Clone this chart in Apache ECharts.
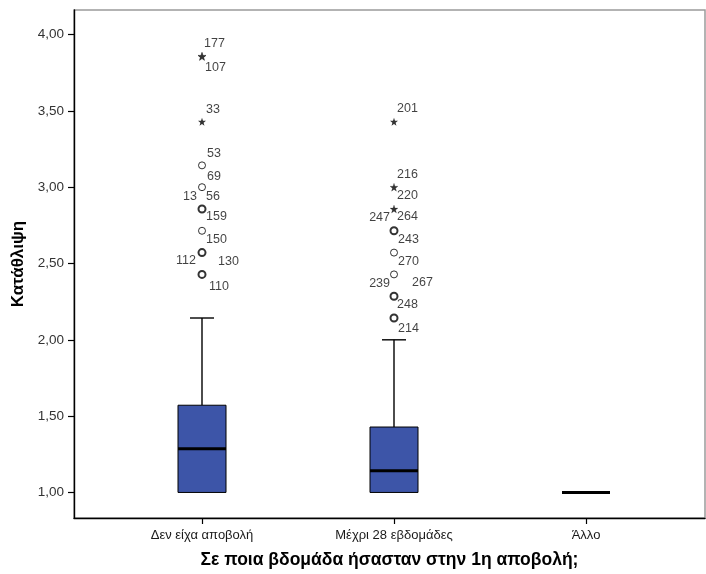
<!DOCTYPE html>
<html>
<head>
<meta charset="utf-8">
<script src="https://cdn.jsdelivr.net/npm/echarts@6/dist/echarts.min.js"></script>
<style>
  html, body { margin: 0; padding: 0; background: #ffffff; }
  #chart { width: 706px; height: 574px; }
</style>
</head>
<body>
<div id="chart"></div>
<script>
// Groups on the horizontal axis
const groups = ['Δεν είχα αποβολή', 'Μέχρι 28 εβδομάδες', 'Άλλο'];

// Five-number summaries per group
const whiskerLow  = [1.0000, 1.0000, 1.0000];
const quartile1   = [1.0000, 1.0000, 1.0000];
const medians     = [1.2857, 1.1429, 1.0000];
const quartile3   = [1.5714, 1.4286, 1.0000];
const whiskerHigh = [2.1429, 2.0000, 1.0000];

// Outlying cases: group index, value, kind (mild = circle, extreme = star), case numbers
const outlierGroup = [0, 0, 0, 0, 0, 0, 0, 0, 1, 1, 1, 1, 1, 1, 1, 1];
const outlierValue = [3.8571, 3.4286, 3.1429, 3.0000, 2.8571, 2.7143, 2.5714, 2.4286,
                      3.4286, 3.0000, 2.8571, 2.7143, 2.5714, 2.4286, 2.2857, 2.1429];
const outlierKind  = ['extreme', 'extreme', 'mild', 'mild', 'mild', 'mild', 'mild', 'mild',
                      'extreme', 'extreme', 'extreme', 'mild', 'mild', 'mild', 'mild', 'mild'];
const outlierCases = [['177', '107'], ['33'], ['53', '69'], ['13', '56'], ['159'], ['150'], ['112', '130'], ['110'],
                      ['201'], ['216', '220'], ['247', '264'], ['243'], ['270'], ['239', '267'], ['248'], ['214']];

// Y axis tick values
const yTicks = [1.0, 1.5, 2.0, 2.5, 3.0, 3.5, 4.0];

// Axis titles
const xTitle = 'Σε ποια βδομάδα ήσασταν στην 1η αποβολή;';
const yTitle = 'Κατάθλιψη';

// ---- presentation ----
const Y_MIN = 0.8326, Y_MAX = 4.1608;
const FONT = '"Liberation Sans", Arial, sans-serif';
const BOX_FILL = '#3d55a8';

// marker stroke weight (heavier where several cases overlap)
const outlierStroke = [1.6, 1.0, 1.0, 1.0, 2.0, 1.0, 2.0, 2.0,
                       1.0, 1.2, 1.2, 2.0, 1.0, 1.0, 2.0, 2.0];
// case-number label placement relative to its marker: [dx, dy, align]
const caseLabelSpot = [
  [[2, -13, 'left'], [3, 11, 'left']],
  [[4, -12, 'left']],
  [[5, -12, 'left'], [5, 11, 'left']],
  [[-5, 9, 'right'], [4, 9, 'left']],
  [[4, 8, 'left']],
  [[4, 9, 'left']],
  [[-6, 8, 'right'], [16, 9, 'left']],
  [[7, 12, 'left']],
  [[3, -13, 'left']],
  [[3, -13, 'left'], [3, 8, 'left']],
  [[-4, 9, 'right'], [3, 8, 'left']],
  [[4, 9, 'left']],
  [[4, 9, 'left']],
  [[-4, 9, 'right'], [18, 8, 'left']],
  [[3, 8, 'left']],
  [[4, 11, 'left']]
];

const STAR = 'path://M50,0 L61.8,35.1 L97.6,34.5 L69.1,56.9 L79.4,90.5 L50,70.5 L20.6,90.5 L30.9,56.9 L2.4,34.5 L38.2,35.1 Z';

const boxData = groups.map((g, i) => [i, whiskerLow[i], quartile1[i], medians[i], quartile3[i], whiskerHigh[i]]);

const outlierData = outlierValue.map((v, i) => {
  const star = outlierKind[i] === 'extreme';
  return {
    value: [outlierGroup[i], v],
    symbol: star ? STAR : 'circle',
    symbolSize: star ? 8 : 7,
    itemStyle: star
      ? { color: '#000', borderColor: '#000', borderWidth: outlierStroke[i] - 1 }
      : { color: '#fff', borderColor: '#000', borderWidth: outlierStroke[i] }
  };
});

// label anchor sits on a 2px invisible symbol; position is measured from its top-left corner
const caseLabelData = [];
outlierCases.forEach((cases, i) => {
  cases.forEach((c, k) => {
    const spot = caseLabelSpot[i][k];
    caseLabelData.push({
      value: [outlierGroup[i], outlierValue[i]],
      name: c,
      label: { position: [spot[0] + 1, spot[1] + 1], align: spot[2], verticalAlign: 'middle' }
    });
  });
});

function renderBox(params, api) {
  const cat = api.value(0);
  const lo = api.coord([cat, api.value(1)]);
  const q1 = api.coord([cat, api.value(2)]);
  const md = api.coord([cat, api.value(3)]);
  const q3 = api.coord([cat, api.value(4)]);
  const hi = api.coord([cat, api.value(5)]);
  const band = api.size([1, 0])[0];
  const half = band * 0.125;
  const cap = band * 0.0625;
  const x = q1[0];
  const line = { stroke: '#000', lineWidth: 1.4 };
  const children = [];
  if (hi[1] < q3[1]) {
    children.push({ type: 'line', shape: { x1: x, y1: q3[1], x2: x, y2: hi[1] }, style: line });
    children.push({ type: 'line', shape: { x1: x - cap, y1: hi[1], x2: x + cap, y2: hi[1] }, style: line });
  }
  if (lo[1] > q1[1]) {
    children.push({ type: 'line', shape: { x1: x, y1: q1[1], x2: x, y2: lo[1] }, style: line });
    children.push({ type: 'line', shape: { x1: x - cap, y1: lo[1], x2: x + cap, y2: lo[1] }, style: line });
  }
  if (q1[1] - q3[1] > 0.5) {
    children.push({
      type: 'rect',
      shape: { x: x - half, y: q3[1], width: half * 2, height: q1[1] - q3[1] },
      style: { fill: BOX_FILL, stroke: '#000', lineWidth: 1 }
    });
  }
  children.push({ type: 'line', shape: { x1: x - half, y1: md[1], x2: x + half, y2: md[1] },
                  style: { stroke: '#000', lineWidth: 3 } });
  return { type: 'group', children };
}

const chart = echarts.init(document.getElementById('chart'), null, { renderer: 'canvas' });

chart.setOption({
  animation: false,
  backgroundColor: '#ffffff',
  grid: [
    { left: 74, right: 1, top: 10, bottom: 56, show: true, borderColor: '#9a9a9a', borderWidth: 1.5,
      backgroundColor: 'transparent', containLabel: false, outerBoundsMode: 'none' },
    { left: 106, width: 576, top: 10, bottom: 56, containLabel: false, outerBoundsMode: 'none' }
  ],
  xAxis: [
    {
      type: 'value', gridIndex: 0, min: 0, max: 1,
      axisLine: { show: true, lineStyle: { color: '#000', width: 1.4 } },
      axisTick: { show: false }, axisLabel: { show: false }, splitLine: { show: false },
      name: xTitle, nameLocation: 'middle', nameGap: 33,
      nameTextStyle: { fontFamily: FONT, fontSize: 17.5, fontWeight: 'bold', color: '#000' }
    },
    {
      type: 'category', gridIndex: 1, data: groups, boundaryGap: true,
      axisLine: { show: false },
      axisTick: { show: true, alignWithLabel: true, length: 6, lineStyle: { color: '#000', width: 1.2 } },
      axisLabel: { fontFamily: FONT, fontSize: 13, color: '#1a1a1a', margin: 11 },
      splitLine: { show: false }
    }
  ],
  yAxis: [
    {
      type: 'value', gridIndex: 0, min: Y_MIN, max: Y_MAX,
      axisLine: { show: true, lineStyle: { color: '#000', width: 1.4 } },
      axisTick: { show: true, length: 6, customValues: yTicks, lineStyle: { color: '#000', width: 1.2 } },
      axisLabel: {
        customValues: yTicks, fontFamily: FONT, fontSize: 13.5, color: '#333', margin: 10,
        formatter: v => v.toFixed(2).replace('.', ',')
      },
      splitLine: { show: false },
      name: yTitle, nameLocation: 'middle', nameGap: 43, nameRotate: 90,
      nameTextStyle: { fontFamily: FONT, fontSize: 17, fontWeight: 'bold', color: '#000' }
    },
    {
      type: 'value', gridIndex: 1, min: Y_MIN, max: Y_MAX,
      axisLine: { show: false }, axisTick: { show: false }, axisLabel: { show: false }, splitLine: { show: false }
    }
  ],
  series: [
    {
      type: 'custom', xAxisIndex: 1, yAxisIndex: 1,
      data: boxData, renderItem: renderBox,
      encode: { x: 0, y: [1, 2, 3, 4, 5] }
    },
    {
      type: 'scatter', xAxisIndex: 1, yAxisIndex: 1, data: outlierData, z: 3
    },
    {
      type: 'scatter', xAxisIndex: 1, yAxisIndex: 1, data: caseLabelData, z: 4,
      symbol: 'circle', symbolSize: 2,
      itemStyle: { color: 'rgba(0,0,0,0)' },
      label: {
        show: true,
        formatter: p => p.name,
        fontFamily: FONT, fontSize: 12.5, color: '#111'
      },
      labelLayout: { hideOverlap: false }
    }
  ]
});
</script>
</body>
</html>
